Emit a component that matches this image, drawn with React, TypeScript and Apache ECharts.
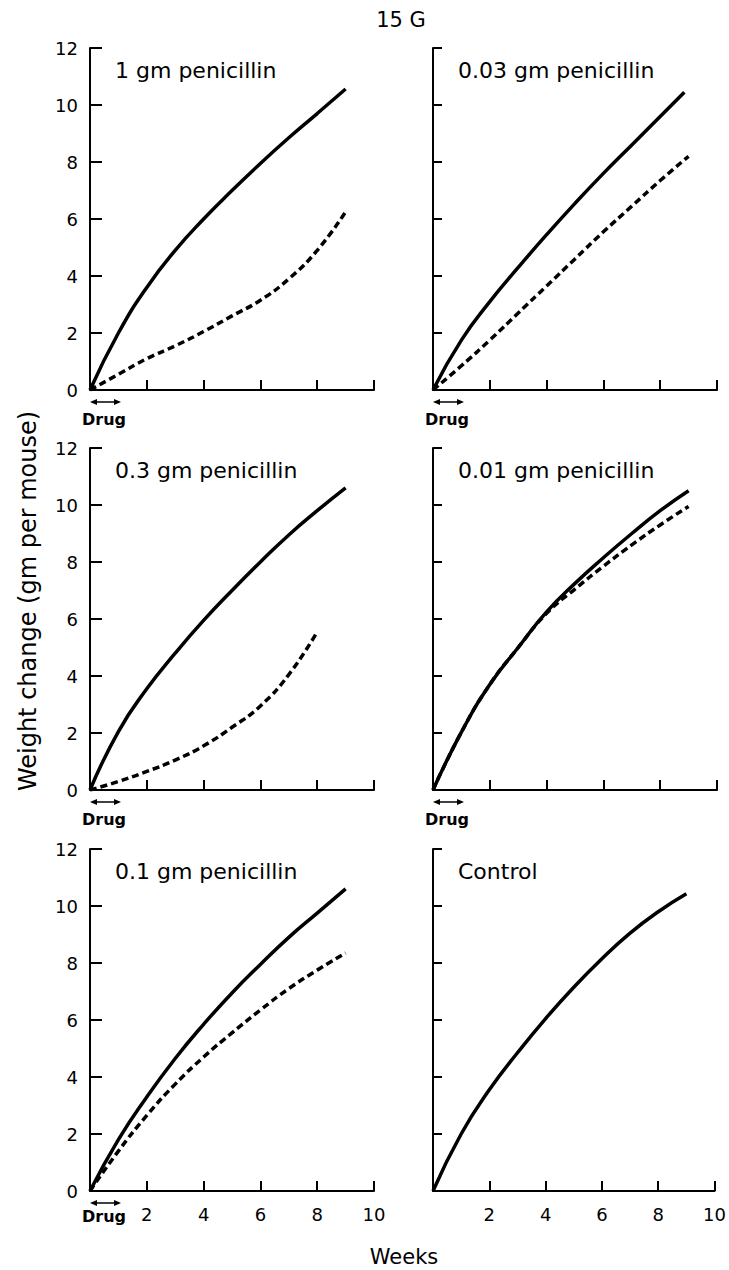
import React, { useEffect, useRef } from "react";
import * as echarts from "echarts";

// ---- data ----
const weeks = [0, 1, 2, 3, 4, 5, 6, 7, 8, 9];
const weeksTo8 = [0, 1, 2, 3, 4, 5, 6, 7, 8];
const weeksTopRightSolid = [0, 1, 2, 3, 4, 5, 6, 7, 8, 8.85];

const xTicks = [0, 2, 4, 6, 8, 10];
const yTicks = [0, 2, 4, 6, 8, 10, 12];

const panelLabels = [
  "1 gm penicillin",
  "0.03 gm penicillin",
  "0.3 gm penicillin",
  "0.01 gm penicillin",
  "0.1 gm penicillin",
  "Control",
];

// weight change, gm per mouse
const solid1gm = [0, 2.0, 3.6, 4.9, 6.0, 7.0, 7.95, 8.85, 9.7, 10.56];
const dashed1gm = [0, 0.55, 1.1, 1.55, 2.05, 2.6, 3.15, 3.9, 4.9, 6.25];

const solid003 = [0, 1.75, 3.1, 4.3, 5.45, 6.55, 7.6, 8.6, 9.6, 10.45];
const dashed003 = [0, 0.85, 1.75, 2.7, 3.65, 4.6, 5.55, 6.45, 7.35, 8.2];

const solid03 = [0, 2.05, 3.55, 4.8, 5.95, 7.0, 8.0, 8.95, 9.8, 10.6];
const dashed03 = [0, 0.3, 0.65, 1.05, 1.55, 2.2, 2.95, 4.05, 5.55];

const solid001 = [0, 2.03, 3.7, 5.0, 6.25, 7.25, 8.15, 9.0, 9.8, 10.5];
const dashed001 = [0, 2.03, 3.7, 5.0, 6.2, 7.05, 7.85, 8.6, 9.3, 9.95];

const solid01 = [0, 1.8, 3.3, 4.65, 5.85, 6.95, 7.95, 8.9, 9.75, 10.6];
const dashed01 = [0, 1.4, 2.65, 3.75, 4.7, 5.55, 6.35, 7.1, 7.75, 8.35];

const solidControl = [0, 2.0, 3.55, 4.85, 6.05, 7.15, 8.15, 9.05, 9.8, 10.43];

const FONT = "DejaVu Sans";

function pairs(xs: number[], ys: number[]) {
  return ys.map((y, i) => [xs[i], y]);
}

export default function App() {
  const ref = useRef<HTMLDivElement>(null);

  useEffect(() => {
    if (!ref.current) return;
    const chart = echarts.init(ref.current, undefined, { renderer: "svg" });

    const lefts = [90, 433];
    const tops = [48, 448, 849];
    const W = 284;
    const H = 342;

    const panels = [
      { solid: pairs(weeks, solid1gm), dashed: pairs(weeks, dashed1gm) },
      { solid: pairs(weeksTopRightSolid, solid003), dashed: pairs(weeks, dashed003) },
      { solid: pairs(weeks, solid03), dashed: pairs(weeksTo8, dashed03) },
      { solid: pairs(weeks, solid001), dashed: pairs(weeks, dashed001) },
      { solid: pairs(weeks, solid01), dashed: pairs(weeks, dashed01) },
      { solid: pairs(weeks, solidControl), dashed: null as any },
    ];

    const grid: any[] = [];
    const xAxis: any[] = [];
    const yAxis: any[] = [];
    const series: any[] = [];
    const graphic: any[] = [];

    panels.forEach((p, i) => {
      const col = i % 2;
      const row = Math.floor(i / 2);
      const left = lefts[col];
      const top = tops[row];
      grid.push({ left, top, width: W, height: H, containLabel: false });
      const bottomRow = row === 2;
      xAxis.push({
        type: "value",
        gridIndex: i,
        min: xTicks[0],
        max: xTicks[xTicks.length - 1],
        interval: 2,
        position: "bottom",
        axisLine: { show: true, onZero: false, lineStyle: { color: "#000", width: 2 } },
        axisTick: { show: true, inside: true, length: 10, lineStyle: { color: "#000", width: 2 } },
        splitLine: { show: false },
        axisLabel: {
          show: bottomRow,
          margin: 14,
          color: "#000",
          fontFamily: FONT,
          fontSize: 18,
          formatter: (v: number) => (v === 0 ? "" : String(v)),
        },
      });
      yAxis.push({
        type: "value",
        gridIndex: i,
        min: yTicks[0],
        max: yTicks[yTicks.length - 1],
        interval: 2,
        position: "left",
        axisLine: { show: true, onZero: false, lineStyle: { color: "#000", width: 2 } },
        axisTick: {
          show: true,
          inside: true,
          length: col === 0 ? 12 : 9,
          lineStyle: { color: "#000", width: 2 },
        },
        splitLine: { show: false },
        axisLabel: {
          show: col === 0,
          margin: 12,
          color: "#000",
          fontFamily: FONT,
          fontSize: 18,
        },
      });
      series.push({
        type: "line",
        xAxisIndex: i,
        yAxisIndex: i,
        data: p.solid,
        smooth: 0.5,
        symbol: "none",
        showSymbol: false,
        lineStyle: { color: "#000", width: 3.5, type: "solid" },
        silent: true,
      });
      if (p.dashed) {
        series.push({
          type: "line",
          xAxisIndex: i,
          yAxisIndex: i,
          data: p.dashed,
          smooth: 0.5,
          symbol: "none",
          showSymbol: false,
          lineStyle: { color: "#000", width: 3.5, type: [7, 4] },
          silent: true,
        });
      }

      // panel label
      graphic.push({
        type: "text",
        left: left + 25,
        top: top + 11,
        style: {
          text: panelLabels[i],
          fill: "#000",
          font: `22px "${FONT}"`,
        },
      });

      // Drug arrow + label (not in control panel)
      if (i !== 5) {
        const y0 = top + H;
        const ay = y0 + 12;
        const ax1 = left;
        const ax2 = left + 31;
        graphic.push({
          type: "line",
          shape: { x1: ax1 + 2, y1: ay, x2: ax2 - 2, y2: ay },
          style: { stroke: "#000", lineWidth: 1.5 },
        });
        graphic.push({
          type: "polygon",
          shape: { points: [[ax1, ay], [ax1 + 7, ay - 3], [ax1 + 7, ay + 3]] },
          style: { fill: "#000" },
        });
        graphic.push({
          type: "polygon",
          shape: { points: [[ax2, ay], [ax2 - 7, ay - 3], [ax2 - 7, ay + 3]] },
          style: { fill: "#000" },
        });
        graphic.push({
          type: "text",
          x: left + 14,
          y: y0 + (bottomRow ? 25 : 29),
          style: {
            text: "Drug",
            fill: "#000",
            font: `bold 16px "${FONT}"`,
            align: "center",
            verticalAlign: "middle",
          },
        });
      }
    });

    // overall title
    graphic.push({
      type: "text",
      x: 401,
      y: 20,
      style: {
        text: "15 G",
        fill: "#000",
        font: `21px "${FONT}"`,
        align: "center",
        verticalAlign: "middle",
      },
    });
    // x axis title
    graphic.push({
      type: "text",
      x: 404,
      y: 1257,
      style: {
        text: "Weeks",
        fill: "#000",
        font: `21px "${FONT}"`,
        align: "center",
        verticalAlign: "middle",
      },
    });
    // y axis title
    graphic.push({
      type: "text",
      x: 28,
      y: 601,
      rotation: Math.PI / 2,
      style: {
        text: "Weight change (gm per mouse)",
        fill: "#000",
        font: `24px "${FONT}"`,
        align: "center",
        verticalAlign: "middle",
      },
    });

    chart.setOption({
      animation: false,
      backgroundColor: "#fff",
      grid,
      xAxis,
      yAxis,
      series,
      graphic,
    });

    return () => chart.dispose();
  }, []);

  return (
    <div
      ref={ref}
      style={{ position: "absolute", left: 0, top: 0, width: 729, height: 1270, background: "#fff" }}
    />
  );
}
